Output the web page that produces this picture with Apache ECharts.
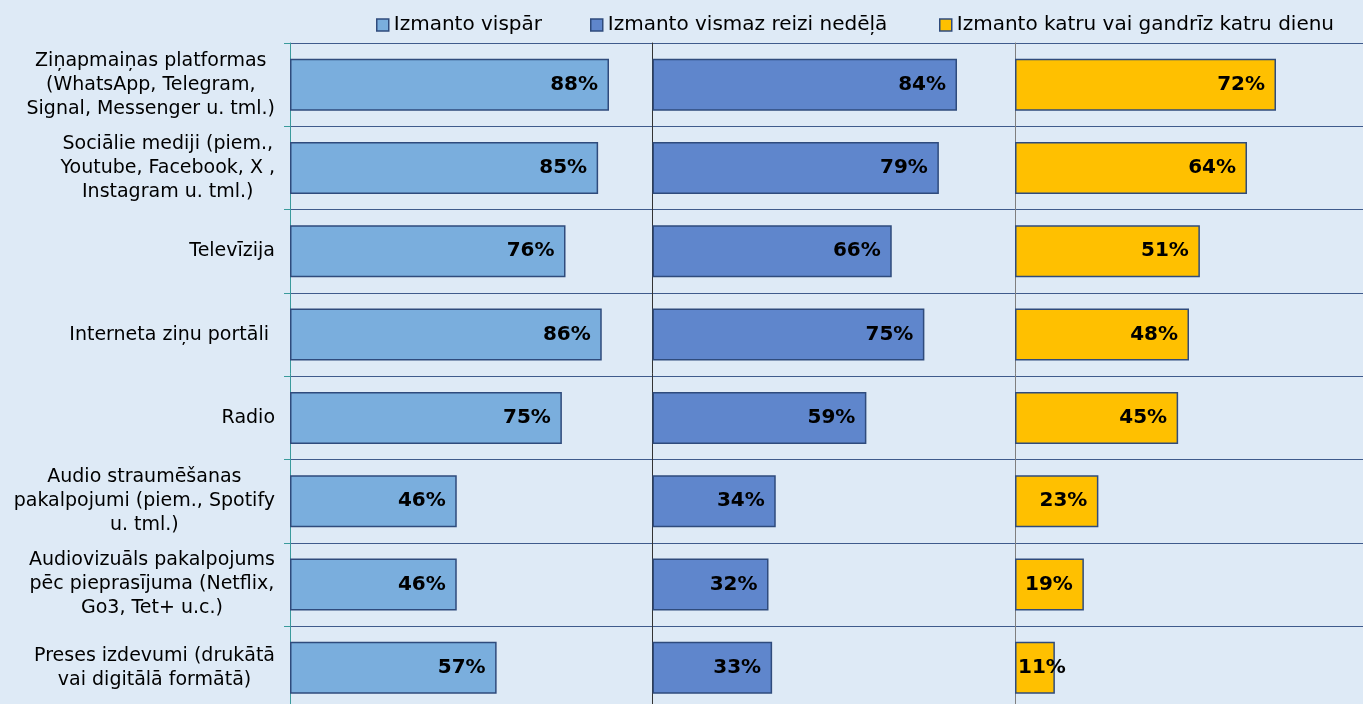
<!DOCTYPE html>
<html><head><meta charset="utf-8">
<script src="https://cdn.jsdelivr.net/npm/echarts@6/dist/echarts.min.js"></script>
<style>html,body{margin:0;padding:0;background:#deeaf6}#c{width:1363px;height:704px}</style>
</head><body><div id="c"></div><script>
const categories = [
  'Ziņapmaiņas platformas\n(WhatsApp, Telegram,\nSignal, Messenger u. tml.)',
  'Sociālie mediji (piem.,\nYoutube, Facebook, X ,\nInstagram u. tml.)',
  'Televīzija',
  'Interneta ziņu portāli ',
  'Radio',
  'Audio straumēšanas\npakalpojumi (piem., Spotify\nu. tml.)',
  'Audiovizuāls pakalpojums\npēc pieprasījuma (Netflix,\nGo3, Tet+ u.c.)',
  'Preses izdevumi (drukātā\nvai digitālā formātā)'
];
const seriesNames = ['Izmanto vispār', 'Izmanto vismaz reizi nedēļā', 'Izmanto katru vai gandrīz katru dienu'];
const useAny = [88, 85, 76, 86, 75, 46, 46, 57];
const useWeekly = [84, 79, 66, 75, 59, 34, 32, 33];
const useDaily = [72, 64, 51, 48, 45, 23, 19, 11];

const values = [useAny, useWeekly, useDaily];
const colors = ['#7aaedd', '#5f86cc', '#ffc000'];
const axisColors = ['#3a9a9c', '#333333', '#7f7f7f'];
const FONT = 'DejaVu Sans';
const gridLefts = [290, 652.5, 1015];
const legendLefts = [376, 590, 939];

const chart = echarts.init(document.getElementById('c'));
chart.setOption({
  backgroundColor: '#deeaf6',
  animation: false,
  textStyle: { fontFamily: FONT },
  legend: seriesNames.map((n, i) => ({
    data: [n], left: legendLefts[i], top: 15, padding: 0, itemWidth: 12, itemHeight: 12,
    icon: 'rect',
    itemStyle: { borderColor: '#2f4b7c', borderWidth: 1.5 },
    textStyle: { fontFamily: FONT, fontSize: 20, color: '#000' }
  })),
  grid: gridLefts.map(l => ({ left: l, top: 43, width: 362.5, height: 666.5, outerBoundsMode: 'none', containLabel: false })),
  xAxis: [0, 1, 2].map(i => ({ gridIndex: i, type: 'value', min: 0, max: 100, show: false })),
  yAxis: [0, 1, 2].map(i => ({
    gridIndex: i, type: 'category', data: categories, inverse: true,
    axisLine: { show: true, lineStyle: { color: axisColors[i], width: 1 } },
    axisTick: { show: i === 0, length: 6, lineStyle: { color: axisColors[0] } },
    axisLabel: {
      show: i === 0, margin: 15, align: 'right',
      formatter: v => v.split('\n').map(s => '{a|' + s + '}').join('\n'),
      rich: { a: { fontFamily: FONT, fontSize: 19, lineHeight: 24, align: 'center', color: '#000' } }
    },
    splitLine: { show: true, lineStyle: { color: '#3f5b8c', width: 1 } }
  })),
  series: values.map((vals, i) => ({
    name: seriesNames[i], type: 'bar', xAxisIndex: i, yAxisIndex: i,
    barWidth: 52,
    itemStyle: { color: colors[i], borderColor: '#2f4b7c', borderWidth: 1.5 },
    label: {
      show: true, position: 'insideRight', distance: 11,
      formatter: '{c}%', color: '#000', fontFamily: FONT, fontSize: 20, fontWeight: 'bold'
    },
    data: vals.map(v => v < 15 ? { value: v, label: { position: 'insideLeft', distance: 3 } } : v)
  }))
});
</script></body></html>
